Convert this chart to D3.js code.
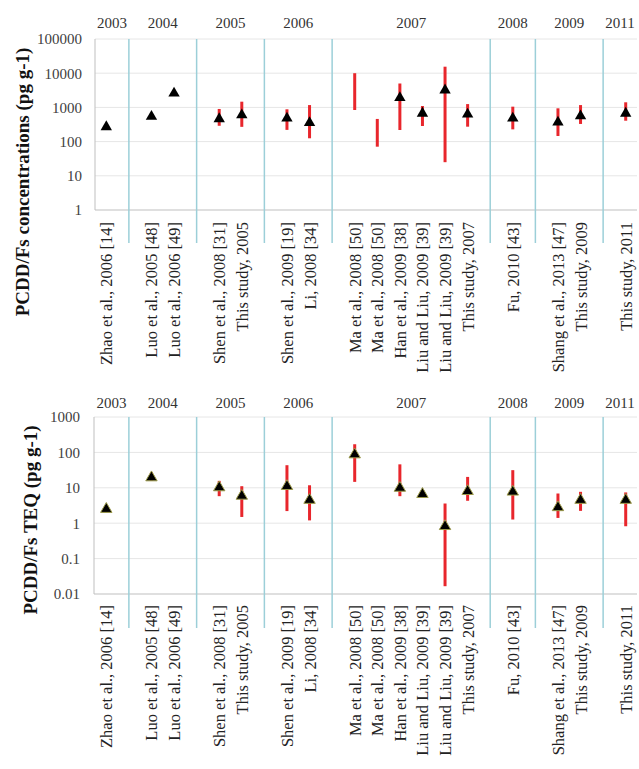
<!DOCTYPE html>
<html>
<head>
<meta charset="utf-8">
<script src="https://cdn.jsdelivr.net/npm/d3@7"></script>
<style>
  html, body { margin: 0; padding: 0; background: #fff; }
  svg { display: block; }
</style>
</head>
<body>
<svg id="chart" width="639" height="769"></svg>
<script>
// Sampling year of each study group
const years = ["2003", "2004", "2005", "2006", "2007", "2008", "2009", "2011"];

// Studies (one column each), with the year group they belong to
const studies = [
  "Zhao et al., 2006 [14]",
  "Luo et al., 2005 [48]", "Luo et al., 2006 [49]",
  "Shen et al., 2008 [31]", "This study, 2005",
  "Shen et al., 2009 [19]", "Li, 2008 [34]",
  "Ma et al., 2008 [50]", "Ma et al., 2008 [50]", "Han et al., 2009 [38]",
  "Liu and Liu, 2009 [39]", "Liu and Liu, 2009 [39]", "This study, 2007",
  "Fu, 2010 [43]",
  "Shang et al., 2013 [47]", "This study, 2009",
  "This study, 2011"
];
const studyYear = ["2003", "2004", "2004", "2005", "2005", "2006", "2006",
  "2007", "2007", "2007", "2007", "2007", "2007", "2008", "2009", "2009", "2011"];

// PCDD/Fs concentrations (pg g-1): mean and range
const concMean = [270, 540, 2600, 460, 600, 480, 356, null, null, 1920, 670, 3200, 630, 480, 366, 560, 670];
const concLow  = [null, null, null, 290, 270, 220, 125, 840, 71, 218, 286, 25, 273, 228, 146, 328, 408];
const concHigh = [null, null, null, 900, 1470, 880, 1170, 10000, 460, 5000, 1100, 15500, 1250, 1050, 940, 1170, 1410];

// PCDD/Fs TEQ (pg g-1): mean and range
const teqMean = [2.5, 19.5, null, 10.2, 5.9, 11.1, 4.5, 87, null, 9.9, 6.6, 0.82, 8.0, 7.7, 2.8, 4.5, 4.5];
const teqLow  = [null, 16, null, 5.8, 1.5, 2.2, 1.2, 14.7, null, 5.8, null, 0.0166, 4.3, 1.27, 1.41, 2.23, 0.82];
const teqHigh = [null, 28, null, 15.7, 11.1, 43.5, 11.8, 170, null, 46, null, 3.6, 20.3, 31.5, 6.9, 7.7, 7.4];

// Axis tick values
const concTicks = [1, 10, 100, 1000, 10000, 100000];
const teqTicks = [0.01, 0.1, 1, 10, 100, 1000];

const FONT = "'Liberation Serif', 'Times New Roman', serif";
const svg = d3.select("#chart");

// Column slots: one per study, plus an empty slot between year groups
const slots = [];
const gapSlots = [];
studies.forEach((s, i) => {
  if (i > 0 && studyYear[i] !== studyYear[i - 1]) {
    const g = "gap" + i;
    slots.push(g);
    gapSlots.push(g);
  }
  slots.push("s" + i);
});

const x = d3.scaleBand().domain(slots).range([95, 637]);
const cx = k => x(k) + x.bandwidth() / 2;

function panel(opts) {
  const { top, bottom, left, sepBottom, labelTop, yearY, ticks, mean, low, high,
          title, titleX, titleY, tickX, markerStroke } = opts;
  const y = d3.scaleLog().domain([ticks[0], ticks[ticks.length - 1]]).range([bottom, top]);
  const g = svg.append("g");

  // horizontal gridlines
  g.selectAll("line.grid").data(ticks.slice(1)).join("line")
    .attr("x1", left).attr("x2", 637)
    .attr("y1", d => y(d)).attr("y2", d => y(d))
    .attr("stroke", "#e6e6e6").attr("stroke-width", 1);

  // y axis with tick labels only
  const axis = d3.axisLeft(y).tickValues(ticks).tickSize(0).tickPadding(0)
    .tickFormat(d => String(+d.toPrecision(3)));
  const ag = g.append("g").attr("transform", `translate(${tickX},0)`).call(axis);
  ag.select(".domain").remove();
  ag.selectAll("text").attr("font-size", 15).attr("fill", "#404040")
    .style("font-family", FONT);

  // axis lines
  g.append("line").attr("x1", left).attr("x2", left).attr("y1", top).attr("y2", bottom)
    .attr("stroke", "#bfbfbf");
  g.append("line").attr("x1", left).attr("x2", 637).attr("y1", bottom).attr("y2", bottom)
    .attr("stroke", "#bfbfbf");

  // year-group separators
  g.selectAll("line.sep").data(gapSlots).join("line")
    .attr("x1", d => cx(d)).attr("x2", d => cx(d))
    .attr("y1", top).attr("y2", sepBottom)
    .attr("stroke", "#9ccfd8").attr("stroke-width", 1.5);

  // year labels centred on each group
  const bounds = [left, ...gapSlots.map(cx), 637];
  g.selectAll("text.year").data(years).join("text")
    .attr("x", (d, i) => (bounds[i] + bounds[i + 1]) / 2)
    .attr("y", yearY)
    .attr("text-anchor", "middle")
    .attr("font-size", 15).attr("fill", "#333")
    .style("font-family", FONT)
    .text(d => d);

  // range bars
  const idx = d3.range(studies.length);
  g.selectAll("line.range").data(idx.filter(i => low[i] != null)).join("line")
    .attr("x1", i => cx("s" + i)).attr("x2", i => cx("s" + i))
    .attr("y1", i => y(low[i])).attr("y2", i => y(high[i]))
    .attr("stroke", "#e8262c").attr("stroke-width", 3);

  // mean markers
  g.selectAll("path.mean").data(idx.filter(i => mean[i] != null)).join("path")
    .attr("d", d3.symbol(d3.symbolTriangle, 56))
    .attr("transform", i => `translate(${cx("s" + i)},${y(mean[i])})`)
    .attr("fill", "#000")
    .attr("stroke", markerStroke || "none").attr("stroke-width", 1);

  // study labels
  g.selectAll("text.study").data(idx).join("text")
    .attr("transform", i => `translate(${cx("s" + i) + 6},${labelTop}) rotate(-90)`)
    .attr("text-anchor", "end")
    .attr("font-size", 16.5).attr("fill", "#222")
    .style("font-family", FONT)
    .text(i => studies[i]);

  // y-axis title
  g.append("text")
    .attr("transform", `translate(${titleX},${titleY}) rotate(-90)`)
    .attr("text-anchor", "middle")
    .attr("font-size", 19).attr("font-weight", "bold").attr("fill", "#111")
    .style("font-family", FONT)
    .text(title);
}

panel({
  top: 39, bottom: 210, left: 95, sepBottom: 243, labelTop: 222, yearY: 28,
  ticks: concTicks, mean: concMean, low: concLow, high: concHigh,
  title: "PCDD/Fs concentrations (pg g-1)", titleX: 29, titleY: 182, tickX: 82
});

panel({
  top: 417, bottom: 594, left: 94, sepBottom: 628, labelTop: 605, yearY: 408,
  ticks: teqTicks, mean: teqMean, low: teqLow, high: teqHigh,
  title: "PCDD/Fs TEQ (pg g-1)", titleX: 37, titleY: 520, tickX: 80,
  markerStroke: "#9c9a4a"
});
</script>
</body>
</html>
